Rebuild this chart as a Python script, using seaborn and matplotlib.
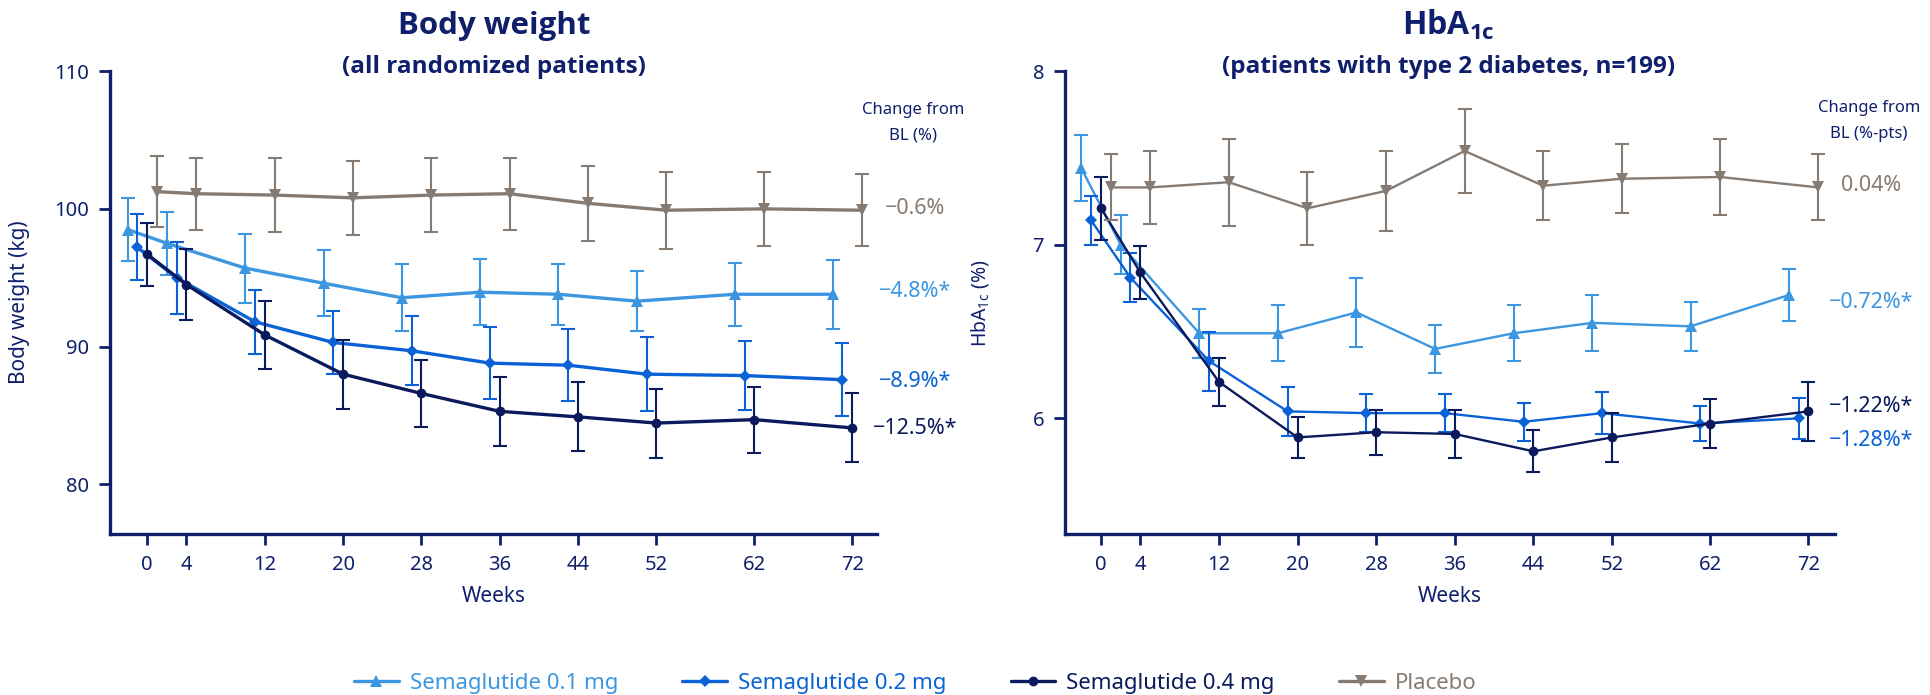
import numpy as np
import pandas as pd
import matplotlib
matplotlib.use("Agg")
import matplotlib.pyplot as plt
from matplotlib import font_manager
import seaborn as sns

# ---------------- data ----------------
weeks = [0, 4, 12, 20, 28, 36, 44, 52, 62, 72]
series_names = ["Semaglutide 0.1 mg", "Semaglutide 0.2 mg", "Semaglutide 0.4 mg", "Placebo"]

bw_sema01 = [98.5, 97.5, 95.7, 94.6, 93.55, 93.95, 93.8, 93.3, 93.8, 93.8]
bw_sema01_se = [2.3, 2.3, 2.5, 2.4, 2.45, 2.4, 2.2, 2.2, 2.3, 2.5]
bw_sema02 = [97.2, 95.0, 91.8, 90.3, 89.7, 88.8, 88.65, 88.0, 87.9, 87.6]
bw_sema02_se = [2.4, 2.6, 2.3, 2.3, 2.5, 2.6, 2.6, 2.7, 2.5, 2.65]
bw_sema04 = [96.7, 94.5, 90.85, 88.0, 86.6, 85.3, 84.9, 84.45, 84.7, 84.1]
bw_sema04_se = [2.3, 2.55, 2.45, 2.5, 2.4, 2.5, 2.5, 2.5, 2.4, 2.5]
bw_placebo = [101.25, 101.1, 101.0, 100.8, 101.0, 101.1, 100.4, 99.9, 100.0, 99.9]
bw_placebo_se = [2.6, 2.6, 2.7, 2.7, 2.7, 2.6, 2.7, 2.8, 2.7, 2.6]

hb_sema01 = [7.44, 7.00, 6.49, 6.49, 6.61, 6.40, 6.49, 6.55, 6.53, 6.71]
hb_sema01_se = [0.19, 0.17, 0.14, 0.16, 0.20, 0.14, 0.16, 0.16, 0.14, 0.15]
hb_sema02 = [7.14, 6.81, 6.33, 6.04, 6.03, 6.03, 5.98, 6.03, 5.97, 6.00]
hb_sema02_se = [0.14, 0.14, 0.17, 0.14, 0.11, 0.11, 0.11, 0.12, 0.10, 0.12]
hb_sema04 = [7.21, 6.84, 6.21, 5.89, 5.92, 5.91, 5.81, 5.89, 5.97, 6.04]
hb_sema04_se = [0.18, 0.15, 0.14, 0.12, 0.13, 0.14, 0.12, 0.14, 0.14, 0.17]
hb_placebo = [7.33, 7.33, 7.36, 7.21, 7.31, 7.54, 7.34, 7.38, 7.39, 7.33]
hb_placebo_se = [0.19, 0.21, 0.25, 0.21, 0.23, 0.24, 0.20, 0.20, 0.22, 0.19]

bw_change_labels = ["\u22124.8%*", "\u22128.9%*", "\u221212.5%*", "\u22120.6%"]
hb_change_labels = ["\u22120.72%*", "\u22121.28%*", "\u22121.22%*", "0.04%"]

x_ticks = [0, 4, 12, 20, 28, 36, 44, 52, 62, 72]
bw_yticks = [80, 90, 100, 110]
hb_yticks = [6, 7, 8]

# ---------------- style ----------------
sns.set_theme(style="white")
plt.rcParams["font.family"] = ["Noto Sans", "DejaVu Sans"]


def pick_bold_family():
    for fam in ["Noto Sans", "Open Sans", "Lato", "Roboto", "Liberation Sans", "DejaVu Sans"]:
        try:
            fp = font_manager.FontProperties(family=fam, weight="bold")
            path = font_manager.findfont(fp, fallback_to_default=False)
            f = font_manager.get_font(path)
            name = (f.style_name or "").lower()
            if "bold" in name or "black" in name or "heavy" in name:
                return fam
        except Exception:
            continue
    return "DejaVu Sans"


BOLD_FAM = pick_bold_family()
plt.rcParams["mathtext.fontset"] = "custom"
plt.rcParams["mathtext.rm"] = "Noto Sans"
plt.rcParams["mathtext.bf"] = BOLD_FAM + ":bold"

NAVY_TXT = "#0f1f6b"
colors = ["#3d97e0", "#0a62d6", "#0b1a5c", "#857b73"]
markers = ["^", "D", "o", "v"]
msizes = [9, 6, 7, 9]
offsets = [-2.0, -1.0, 0.0, 1.0]

fig = plt.figure(figsize=(19.31, 6.95), dpi=100)
ax1 = fig.add_axes([0.057, 0.2317, 0.397, 0.666])
ax2 = fig.add_axes([0.5515, 0.2317, 0.3988, 0.666])


def draw(ax, vals, ses, lw, elw):
    for i, (v, s) in enumerate(zip(vals, ses)):
        xs = np.array(weeks, dtype=float) + offsets[i]
        df = pd.DataFrame({"x": xs, "y": v})
        ax.errorbar(xs, v, yerr=s, fmt="none", ecolor=colors[i], elinewidth=elw,
                    capsize=5, capthick=elw, zorder=2 + i)
        sns.lineplot(data=df, x="x", y="y", ax=ax, color=colors[i], marker=markers[i],
                     markersize=msizes[i], markeredgecolor=colors[i], markeredgewidth=0,
                     linewidth=lw, label=series_names[i], zorder=3 + i, sort=False)


draw(ax1, [bw_sema01, bw_sema02, bw_sema04, bw_placebo],
     [bw_sema01_se, bw_sema02_se, bw_sema04_se, bw_placebo_se], 2.4, 1.5)
draw(ax2, [hb_sema01, hb_sema02, hb_sema04, hb_placebo],
     [hb_sema01_se, hb_sema02_se, hb_sema04_se, hb_placebo_se], 1.7, 1.5)

handles, labels = ax1.get_legend_handles_labels()
for ax in (ax1, ax2):
    if ax.get_legend() is not None:
        ax.get_legend().remove()

for ax in (ax1, ax2):
    sns.despine(ax=ax)
    for sp in ("left", "bottom"):
        ax.spines[sp].set_color(NAVY_TXT)
        ax.spines[sp].set_linewidth(2.4)
    ax.set_xticks(x_ticks)
    ax.tick_params(axis="both", which="both", direction="out", length=8, width=2,
                   color=NAVY_TXT, labelcolor=NAVY_TXT, labelsize=14.5, pad=7,
                   left=True, bottom=True)
    ax.set_xlabel("Weeks", fontsize=15, color=NAVY_TXT, labelpad=8)
    ax.grid(False)

ax1.set_xlim(-3.8, 74.5)
ax1.set_ylim(76.4, 110)
ax1.set_yticks(bw_yticks)
ax1.set_ylabel("Body weight (kg)", fontsize=15, color=NAVY_TXT)
ax1.yaxis.set_label_coords(-0.104, 0.5)

ax2.set_xlim(-3.67, 74.7)
ax2.set_ylim(5.334, 8)
ax2.set_yticks(hb_yticks)
ax2.set_ylabel(r"HbA$_{\mathrm{1c}}$ (%)", fontsize=14, color=NAVY_TXT)
ax2.yaxis.set_label_coords(-0.096, 0.5)

# change-from-baseline labels
bw_label_y = [94.0, 87.45, 84.05, 100.0]
hb_label_y = [6.67, 5.87, 6.07, 7.34]
for ax, labs, ys, cx in ((ax1, bw_change_labels, bw_label_y, 1.05),
                         (ax2, hb_change_labels, hb_label_y, 1.047)):
    tr = matplotlib.transforms.blended_transform_factory(ax.transAxes, ax.transData)
    for i, (t, y) in enumerate(zip(labs, ys)):
        ax.text(cx, y, t, transform=tr, ha="center", va="center", fontsize=15.5,
                color=colors[i], clip_on=False)

ax1.text(1.048, 0.915, "Change from", transform=ax1.transAxes, ha="center", va="center",
         fontsize=12, color=NAVY_TXT)
ax1.text(1.048, 0.861, "BL (%)", transform=ax1.transAxes, ha="center", va="center",
         fontsize=12, color=NAVY_TXT)
ax2.text(1.044, 0.92, "Change from", transform=ax2.transAxes, ha="center", va="center",
         fontsize=12, color=NAVY_TXT)
ax2.text(1.044, 0.865, "BL (%-pts)", transform=ax2.transAxes, ha="center", va="center",
         fontsize=12, color=NAVY_TXT)

# titles
fig.text(0.256, 0.963, "Body weight", ha="center", va="center", fontsize=22.5,
         fontweight="bold", family=[BOLD_FAM, "DejaVu Sans"], color=NAVY_TXT)
fig.text(0.256, 0.903, "(all randomized patients)", ha="center", va="center", fontsize=17.5,
         fontweight="bold", family=[BOLD_FAM, "DejaVu Sans"], color=NAVY_TXT)
fig.text(0.750, 0.963, r"$\mathbf{HbA_{1c}}$", ha="center", va="center", fontsize=23,
         color=NAVY_TXT)
fig.text(0.750, 0.903, "(patients with type 2 diabetes, n=199)", ha="center", va="center",
         fontsize=17.5, fontweight="bold", family=[BOLD_FAM, "DejaVu Sans"], color=NAVY_TXT)

leg = fig.legend(handles, labels, loc="center", bbox_to_anchor=(0.474, 0.017), ncol=4,
                 frameon=False, fontsize=16, handlelength=2.0, handletextpad=0.5,
                 columnspacing=2.9, borderpad=0, labelcolor="linecolor")

fig.savefig("out.png", dpi=100)
